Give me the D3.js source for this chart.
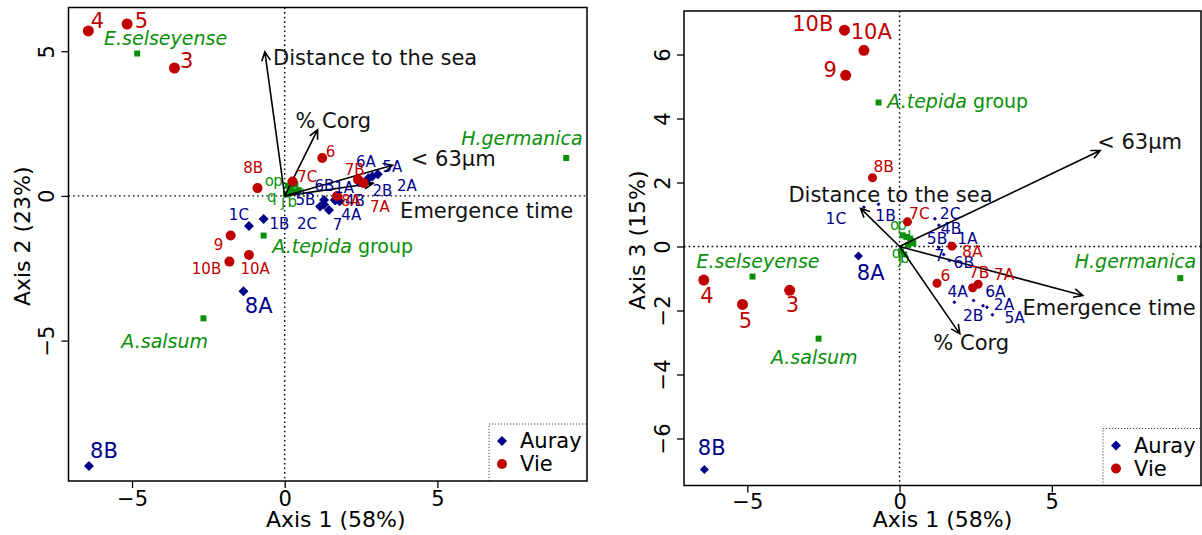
<!DOCTYPE html>
<html><head><meta charset="utf-8">
<script src="https://cdn.jsdelivr.net/npm/d3@7"></script>
<style>
body{margin:0;background:#fff}
svg{display:block}
text{font-family:"DejaVu Sans",Verdana,sans-serif}
</style>
</head><body>
<svg id="chart" width="1202" height="535"></svg>
<script>
// ---------------- DATA ----------------
const auraySites = ["1A","1B","1C","2A","2B","2C","4A","4B","5A","5B","6A","6B","7","8A","8B"];
const aurayAxis1 = [1.66,-0.69,-1.17,2.87,2.74,1.16,1.80,1.29,3.05,1.29,2.43,1.64,1.45,-1.35,-6.41];
const aurayAxis2 = [-0.15,-0.80,-1.04,0.67,0.61,-0.37,-0.18,-0.30,0.75,-0.14,0.47,-0.14,-0.49,-3.29,-9.33];
const aurayAxis3 = [0.10,1.32,1.23,-1.90,-1.85,0.87,-1.74,0.66,-2.13,-0.03,-1.69,-0.44,-0.25,-0.30,-6.97];
const aurayLab12X = [1.95,-0.17,-1.50,4.00,3.20,0.73,2.18,2.30,3.53,0.68,2.66,1.30,1.73,-0.85,-5.92];
const aurayLab12Y = [0.27,-0.98,-0.67,0.33,0.16,-0.98,-0.67,-0.18,1.01,-0.14,1.16,0.34,-1.01,-3.80,-8.80];
const aurayLab13X = [2.23,-0.46,-2.09,3.43,2.42,1.66,1.91,1.69,3.78,1.23,3.15,2.11,1.31,-0.95,-6.17];
const aurayLab13Y = [0.23,0.96,0.85,-1.83,-2.17,1.03,-1.42,0.55,-2.24,0.23,-1.42,-0.51,-0.30,-0.83,-6.30];

const vieSites = ["3","4","5","6","7A","7B","7C","8A","8B","9","10A","10B"];
const vieAxis1 = [-3.61,-6.43,-5.16,1.23,2.58,2.40,0.26,1.72,-0.89,-1.77,-1.17,-1.81];
const vieAxis2 = [4.42,5.70,5.94,1.31,0.45,0.57,0.50,0.00,0.27,-1.37,-2.04,-2.27];
const vieAxis3 = [-1.37,-1.05,-1.81,-1.15,-1.18,-1.29,0.77,0.01,2.15,5.35,6.13,6.76];
const vieLab12X = [-3.21,-6.13,-4.69,1.50,3.12,2.29,0.74,2.17,-1.03,-2.17,-0.97,-2.56];
const vieLab12Y = [4.65,6.04,6.04,1.53,-0.38,0.89,0.66,-0.19,0.97,-1.68,-2.54,-2.53];
const vieLab13X = [-3.52,-6.33,-5.06,1.51,3.43,2.61,0.65,2.39,-0.52,-2.28,-0.93,-2.85];
const vieLab13Y = [-1.83,-1.55,-2.33,-0.92,-0.88,-0.83,1.03,-0.17,2.48,5.51,6.69,6.95];

const speciesNames = ["E.selseyense","H.germanica","A.tepida","A.salsum"];
const speciesSuffix = ["","", " group",""];
const speciesAxis1 = [-4.83,9.22,-0.69,-2.66];
const speciesAxis2 = [4.92,1.31,-1.37,-4.23];
const speciesAxis3 = [-0.94,-0.99,4.50,-2.88];
const speciesLab12X = [-3.90,7.77,1.90,-3.93];
const speciesLab12Y = [5.44,1.99,-1.72,-5.00];
const speciesLab13X = [-4.65,7.75,1.91,-2.80];
const speciesLab13Y = [-0.46,-0.46,4.55,-3.45];

const minorNames = ["o","p","q","j","b","l","n"];
const minorAxis1 = [0.10,0.22,0.05,0.15,0.28,0.35,0.45];
const minorAxis2 = [0.35,0.28,0.05,0.10,0.15,0.40,0.20];
const minorAxis3 = [0.35,0.30,-0.15,-0.25,0.05,0.25,0.10];
const minorLab12X = [-0.50,-0.22,-0.42,-0.05,0.25,0.12,0.52];
const minorLab12Y = [0.51,0.51,-0.05,-0.20,-0.20,0.30,0.15];
const minorLab13X = [-0.16,0.08,-0.10,0.02,0.17,0.32,0.42];
const minorLab13Y = [0.67,0.67,-0.20,-0.40,-0.35,0.30,0.15];

const envNames = ["Distance to the sea","% Corg","< 63μm","Emergence time"];
const envAxis1_12 = [-0.65,1.08,3.53,2.90];
const envAxis2_12 = [4.98,2.29,1.06,0.44];
const envLab12X = [-0.38,0.35,4.13,3.78];
const envLab12Y = [4.77,2.59,1.29,-0.52];
const envAxis1_13 = [-1.28,1.98,6.59,6.02];
const envAxis3_13 = [1.19,-2.73,3.00,-1.53];
const envLab13X = [-3.65,1.11,6.49,4.04];
const envLab13Y = [1.60,-3.02,3.28,-1.92];

const xTicks = [-5,0,5];
const yTicks12 = [-5,0,5];
const yTicks13 = [-6,-4,-2,0,2,4,6];
const axis1Limits = [-7.08,9.9];
const axis2Limits = [-9.85,6.51];
const axis3Limits = [-7.47,7.36];
const legendLabels = ["Auray","Vie"];

// ---------------- STYLE ----------------
const RED = "#c00000", BLUE = "#00008b", GREEN = "#0a8f0a";
const FONT_SP = 19, FONT_ENV = 21, FONT_AX = 22;

const svg = d3.select("#chart");

function panel(cfg){
  const g = svg.append("g");
  const x = d3.scaleLinear().domain(axis1Limits).range([cfg.left, cfg.right]);
  const y = d3.scaleLinear().domain(cfg.yLim).range([cfg.bottom, cfg.top]);

  // zero lines
  g.append("line").attr("x1",x(0)).attr("x2",x(0)).attr("y1",cfg.top).attr("y2",cfg.bottom)
    .attr("stroke","#000").attr("stroke-width",1.4).attr("stroke-dasharray","1.6,3");
  g.append("line").attr("x1",cfg.left).attr("x2",cfg.right).attr("y1",y(0)).attr("y2",y(0))
    .attr("stroke","#000").attr("stroke-width",1.4).attr("stroke-dasharray","1.6,3");

  // axes
  const fmt = d => d3.format("d")(d).replace("-","\u2212");
  const ax = g.append("g").attr("transform",`translate(0,${cfg.bottom})`)
    .call(d3.axisBottom(x).tickValues(xTicks).tickSize(7).tickSizeOuter(0).tickFormat(fmt));
  ax.select(".domain").remove();
  ax.selectAll("line").attr("stroke","#000").attr("stroke-width",1.3);
  ax.selectAll("text").attr("font-size",21).attr("fill","#000").attr("dy",null).attr("y",cfg.tickGap)
    .attr("dominant-baseline","central").style("font-family","DejaVu Sans");
  const ay = g.append("g").attr("transform",`translate(${cfg.left},0)`)
    .call(d3.axisLeft(y).tickValues(cfg.yTicks).tickSize(7).tickSizeOuter(0).tickFormat(fmt));
  ay.select(".domain").remove();
  ay.selectAll("line").attr("stroke","#000").attr("stroke-width",1.3);
  ay.selectAll("text").attr("font-size",21).attr("fill","#000")
    .attr("x",null).attr("dy",null).attr("text-anchor","middle").attr("dominant-baseline","central")
    .attr("transform","translate(-21.5,0) rotate(-90)").style("font-family","DejaVu Sans");

  // axis titles
  g.append("text").attr("x",(cfg.left+cfg.right)/2 + cfg.xTitleShift).attr("y",cfg.bottom+cfg.titleGap)
    .attr("text-anchor","middle").attr("dominant-baseline","central").attr("font-size",FONT_AX)
    .text(cfg.xTitle);
  g.append("text").attr("transform",`translate(${cfg.left-46.5},${(cfg.top+cfg.bottom)/2 - 8}) rotate(-90)`)
    .attr("text-anchor","middle").attr("dominant-baseline","central").attr("font-size",FONT_AX)
    .text(cfg.yTitle);

  // species squares
  minorNames.forEach((n,i)=>{
    g.append("rect").attr("x",x(minorAxis1[i])-3).attr("y",y(cfg.minorY[i])-3)
      .attr("width",6).attr("height",6).attr("fill",GREEN);
  });
  minorNames.forEach((n,i)=>{
    g.append("text").attr("x",x(cfg.minorLX[i])).attr("y",y(cfg.minorLY[i]))
      .attr("text-anchor","middle").attr("dominant-baseline","central")
      .attr("font-size",15).attr("fill",GREEN).text(n);
  });
  speciesNames.forEach((n,i)=>{
    g.append("rect").attr("x",x(speciesAxis1[i])-3).attr("y",y(cfg.spY[i])-3)
      .attr("width",6).attr("height",6).attr("fill",GREEN);
    const t = g.append("text").attr("x",x(cfg.spLX[i])).attr("y",y(cfg.spLY[i]))
      .attr("text-anchor","middle").attr("dominant-baseline","central")
      .attr("font-size",FONT_SP).attr("fill",GREEN);
    t.append("tspan").attr("font-style","italic").text(n);
    if (speciesSuffix[i]) t.append("tspan").text(speciesSuffix[i]);
  });

  // arrows
  envNames.forEach((n,i)=>{
    const x0=x(0), y0=y(0), x1=x(cfg.envX[i]), y1=y(cfg.envY[i]);
    const a = Math.atan2(y1-y0,x1-x0), L=10, sp=Math.PI/7;
    g.append("path")
      .attr("d",`M${x0},${y0}L${x1},${y1}M${x1-L*Math.cos(a-sp)},${y1-L*Math.sin(a-sp)}L${x1},${y1}L${x1-L*Math.cos(a+sp)},${y1-L*Math.sin(a+sp)}`)
      .attr("fill","none").attr("stroke","#000").attr("stroke-width",1.6);
    g.append("text").attr("x",x(cfg.envLX[i])).attr("y",y(cfg.envLY[i]))
      .attr("text-anchor","start").attr("dominant-baseline","central")
      .attr("font-size",FONT_ENV).attr("fill","#111").text(n);
  });

  // Auray diamonds
  auraySites.forEach((s,i)=>{
    const r = cfg.diamond(s);
    const cx=x(aurayAxis1[i]), cy=y(cfg.aurayY[i]);
    g.append("path").attr("d",`M${cx},${cy-r}L${cx+r},${cy}L${cx},${cy+r}L${cx-r},${cy}Z`).attr("fill",BLUE);
  });
  // Vie circles
  vieSites.forEach((s,i)=>{
    g.append("circle").attr("cx",x(vieAxis1[i])).attr("cy",y(cfg.vieY[i])).attr("r",cfg.circle(s)).attr("fill",RED);
  });
  // labels
  auraySites.forEach((s,i)=>{
    g.append("text").attr("x",x(cfg.aurayLX[i])).attr("y",y(cfg.aurayLY[i]))
      .attr("text-anchor","middle").attr("dominant-baseline","central")
      .attr("font-size",cfg.aurayFont(s)).attr("fill",BLUE).text(s);
  });
  vieSites.forEach((s,i)=>{
    g.append("text").attr("x",x(cfg.vieLX[i])).attr("y",y(cfg.vieLY[i]))
      .attr("text-anchor","middle").attr("dominant-baseline","central")
      .attr("font-size",cfg.vieFont(s)).attr("fill",RED).text(s);
  });

  // legend
  const lx = cfg.right-98, ly = cfg.bottom-57;
  g.append("path").attr("d",`M${lx},${cfg.bottom}V${ly}H${cfg.right}`)
    .attr("fill","none").attr("stroke","#444").attr("stroke-width",1).attr("stroke-dasharray","1.2,1.8");
  const mx = lx+13;
  g.append("path").attr("d",`M${mx},${ly+12}L${mx+5},${ly+17}L${mx},${ly+22}L${mx-5},${ly+17}Z`).attr("fill",BLUE);
  g.append("circle").attr("cx",mx).attr("cy",ly+40).attr("r",5).attr("fill",RED);
  legendLabels.forEach((t,i)=>{
    g.append("text").attr("x",mx+18).attr("y",ly+17+i*23).attr("dominant-baseline","central")
      .attr("font-size",21).attr("fill","#000").text(t);
  });

  // box
  g.append("rect").attr("x",cfg.left).attr("y",cfg.top).attr("width",cfg.right-cfg.left).attr("height",cfg.bottom-cfg.top)
    .attr("fill","none").attr("stroke","#000").attr("stroke-width",1.5);
}

panel({
  left:68.5,right:587,top:7.5,bottom:481,yLim:axis2Limits,yTicks:yTicks12,xTitleShift:8,titleGap:38,tickGap:18,
  xTitle:"Axis 1 (58%)",yTitle:"Axis 2 (23%)",
  aurayY:aurayAxis2,aurayLX:aurayLab12X,aurayLY:aurayLab12Y,
  vieY:vieAxis2,vieLX:vieLab12X,vieLY:vieLab12Y,
  spY:speciesAxis2,spLX:speciesLab12X,spLY:speciesLab12Y,
  minorY:minorAxis2,minorLX:minorLab12X,minorLY:minorLab12Y,
  envX:envAxis1_12,envY:envAxis2_12,envLX:envLab12X,envLY:envLab12Y,
  diamond:s=>5, circle:s=>(["3","4","5"].includes(s))?5.5:5,
  aurayFont:s=>(s==="8A"||s==="8B")?21:15,
  vieFont:s=>(["3","4","5"].includes(s))?21:15
});
panel({
  left:684,right:1201,top:11,bottom:485.5,yLim:axis3Limits,yTicks:yTicks13,xTitleShift:0,titleGap:34,tickGap:16,
  xTitle:"Axis 1 (58%)",yTitle:"Axis 3 (15%)",
  aurayY:aurayAxis3,aurayLX:aurayLab13X,aurayLY:aurayLab13Y,
  vieY:vieAxis3,vieLX:vieLab13X,vieLY:vieLab13Y,
  spY:speciesAxis3,spLX:speciesLab13X,spLY:speciesLab13Y,
  minorY:minorAxis3,minorLX:minorLab13X,minorLY:minorLab13Y,
  envX:envAxis1_13,envY:envAxis3_13,envLX:envLab13X,envLY:envLab13Y,
  diamond:s=>(s==="8A"||s==="8B")?4.5:2,
  circle:s=>(["3","4","5","9","10A","10B"].includes(s))?5.5:4.5,
  aurayFont:s=>(s==="8A"||s==="8B")?21:15.5,
  vieFont:s=>(["3","4","5","9","10A","10B"].includes(s))?21:15.5
});
</script>
</body></html>
